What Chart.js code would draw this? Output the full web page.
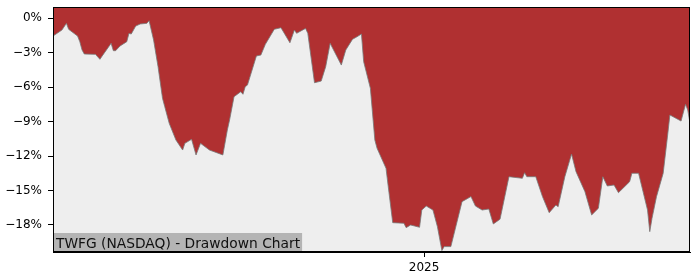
<!DOCTYPE html>
<html>
<head>
<meta charset="utf-8">
<script src="https://cdn.jsdelivr.net/npm/chart.js@4.4.1/dist/chart.umd.min.js"></script>
<style>
  body { margin: 0; background: #ffffff; }
  canvas { display: block; }
</style>
</head>
<body>
<canvas id="ddChart" width="700" height="280"></canvas>
<script>
// Drawdown series (percent)
const dates = [
  '2024-07-19', '2024-07-23', '2024-07-25', '2024-07-26', '2024-07-30', '2024-07-31',
  '2024-08-01', '2024-08-02', '2024-08-07', '2024-08-09', '2024-08-10', '2024-08-14',
  '2024-08-15', '2024-08-16', '2024-08-18', '2024-08-21', '2024-08-22', '2024-08-23',
  '2024-08-25', '2024-08-27', '2024-08-30', '2024-08-31', '2024-09-02', '2024-09-04',
  '2024-09-06', '2024-09-07', '2024-09-09', '2024-09-12', '2024-09-15', '2024-09-16',
  '2024-09-19', '2024-09-21', '2024-09-23', '2024-09-27', '2024-10-03', '2024-10-05',
  '2024-10-06', '2024-10-08', '2024-10-11', '2024-10-12', '2024-10-13', '2024-10-14',
  '2024-10-18', '2024-10-20', '2024-10-22', '2024-10-26', '2024-10-29', '2024-11-02',
  '2024-11-04', '2024-11-05', '2024-11-09', '2024-11-10', '2024-11-13', '2024-11-16',
  '2024-11-18', '2024-11-20', '2024-11-25', '2024-11-27', '2024-11-30', '2024-12-02',
  '2024-12-04', '2024-12-05', '2024-12-08', '2024-12-10', '2024-12-11', '2024-12-15',
  '2024-12-16', '2024-12-18', '2024-12-23', '2024-12-24', '2024-12-26', '2024-12-30',
  '2024-12-31', '2025-01-02', '2025-01-05', '2025-01-07', '2025-01-09', '2025-01-10',
  '2025-01-13', '2025-01-18', '2025-01-22', '2025-01-24', '2025-01-27', '2025-01-30',
  '2025-02-01', '2025-02-04', '2025-02-08', '2025-02-14', '2025-02-15', '2025-02-16',
  '2025-02-20', '2025-02-23', '2025-02-26', '2025-03-01', '2025-03-02', '2025-03-05',
  '2025-03-08', '2025-03-10', '2025-03-14', '2025-03-17', '2025-03-20', '2025-03-22',
  '2025-03-24', '2025-03-27', '2025-03-29', '2025-04-03', '2025-04-04', '2025-04-07',
  '2025-04-11', '2025-04-12', '2025-04-13', '2025-04-15', '2025-04-18', '2025-04-20',
  '2025-04-21', '2025-04-26', '2025-04-28', '2025-04-29', '2025-04-30'
];
const drawdown = [
  -1.57, -1.04, -0.46, -0.98, -1.57, -2.06,
  -2.78, -3.13, -3.16, -3.59, -3.3, -2.2,
  -2.84, -2.84, -2.43, -2.06, -1.33, -1.39,
  -0.7, -0.52, -0.46, -0.23, -1.91, -4.23,
  -6.98, -7.71, -9.16, -10.61, -11.48, -10.9,
  -10.55, -11.91, -10.9, -11.48, -11.91, -9.74,
  -8.87, -6.84, -6.41, -6.63, -5.97, -5.83,
  -3.3, -3.22, -2.29, -0.98, -0.84, -2.15,
  -1.04, -1.33, -0.9, -1.33, -5.63, -5.48,
  -4.23, -2.2, -4.09, -2.78, -1.85, -1.63,
  -1.39, -3.8, -6.11, -10.61, -11.33, -13.07,
  -14.67, -17.8, -17.85, -18.23, -18.0, -18.2,
  -16.7, -16.35, -16.7, -18.15, -20.23, -19.88,
  -19.88, -15.97, -15.53, -16.35, -16.7, -16.61,
  -17.91, -17.5, -13.8, -13.94, -13.45, -13.8,
  -13.8, -15.53, -16.93, -16.26, -16.41, -13.8,
  -11.83, -13.36, -15.1, -17.13, -16.55, -13.8,
  -14.61, -14.52, -15.19, -14.23, -13.5, -13.5,
  -16.7, -18.58, -17.42, -15.54, -13.5, -10.17,
  -8.43, -8.96, -7.5, -8.0, -9.16
];
const yTicks = [-18, -15, -12, -9, -6, -3, 0];
const xTickDates = ['2025-01-01'];
const title = 'TWFG (NASDAQ) - Drawdown Chart';

const points = dates.map((d, i) => ({ x: Date.parse(d), y: drawdown[i] }));
const font = { family: 'DejaVu Sans', size: 12 };

const plotFrame = {
  id: 'plotFrame',
  beforeDraw(chart) {
    const { ctx, chartArea: a } = chart;
    ctx.save();
    ctx.fillStyle = '#eeeeee';
    ctx.fillRect(a.left, a.top, a.right - a.left, a.bottom - a.top);
    ctx.restore();
  },
  afterDraw(chart) {
    const { ctx, chartArea: a } = chart;
    ctx.save();
    // title box in the lower left corner
    ctx.font = '13.8px "DejaVu Sans"';
    const w = ctx.measureText(title).width;
    ctx.fillStyle = '#b4b4b4';
    ctx.fillRect(a.left, a.bottom - 19, w + 5, 19);
    ctx.fillStyle = '#111111';
    ctx.textBaseline = 'alphabetic';
    ctx.fillText(title, a.left + 3, a.bottom - 4);
    // spines
    ctx.strokeStyle = '#000000';
    ctx.lineWidth = 1;
    ctx.strokeRect(a.left + 0.5, a.top + 0.5, a.right - a.left - 1, a.bottom - a.top - 1);
    ctx.restore();
  }
};

new Chart(document.getElementById('ddChart'), {
  type: 'line',
  data: {
    datasets: [{
      data: points,
      fill: 'end',
      backgroundColor: '#b03031',
      borderColor: 'rgba(120,120,120,0.8)',
      borderWidth: 1,
      pointRadius: 0,
      tension: 0
    }]
  },
  options: {
    responsive: false,
    animation: false,
    layout: { padding: { top: 7, right: 10, left: 0, bottom: 0 } },
    plugins: { legend: { display: false }, tooltip: { enabled: false } },
    scales: {
      x: {
        type: 'linear',
        min: points[0].x,
        max: points[points.length - 1].x,
        afterBuildTicks(scale) {
          scale.ticks = xTickDates.map(d => ({ value: Date.parse(d) }));
        },
        afterFit(scale) {
          scale.height = 28;
          scale.paddingLeft = 0;
          scale.paddingRight = 0;
        },
        ticks: {
          autoSkip: false,
          maxRotation: 0,
          padding: 4,
          color: '#000000',
          font: font,
          callback: v => String(new Date(v).getUTCFullYear())
        },
        grid: { drawOnChartArea: false, drawTicks: true, tickLength: 5, color: '#000000' },
        border: { display: true, color: '#000000' }
      },
      y: {
        min: -20.35,
        max: 0.96,
        afterBuildTicks(scale) {
          scale.ticks = yTicks.map(v => ({ value: v }));
        },
        afterFit(scale) {
          scale.width = 53;
          scale.paddingTop = 0;
          scale.paddingBottom = 0;
        },
        ticks: {
          padding: 6,
          color: '#000000',
          font: font,
          callback: v => (v < 0 ? '\u2212' + Math.abs(v) : String(v)) + '%'
        },
        grid: { drawOnChartArea: false, drawTicks: true, tickLength: 5, color: '#000000' },
        border: { display: true, color: '#000000' }
      }
    }
  },
  plugins: [plotFrame]
});
</script>
</body>
</html>
